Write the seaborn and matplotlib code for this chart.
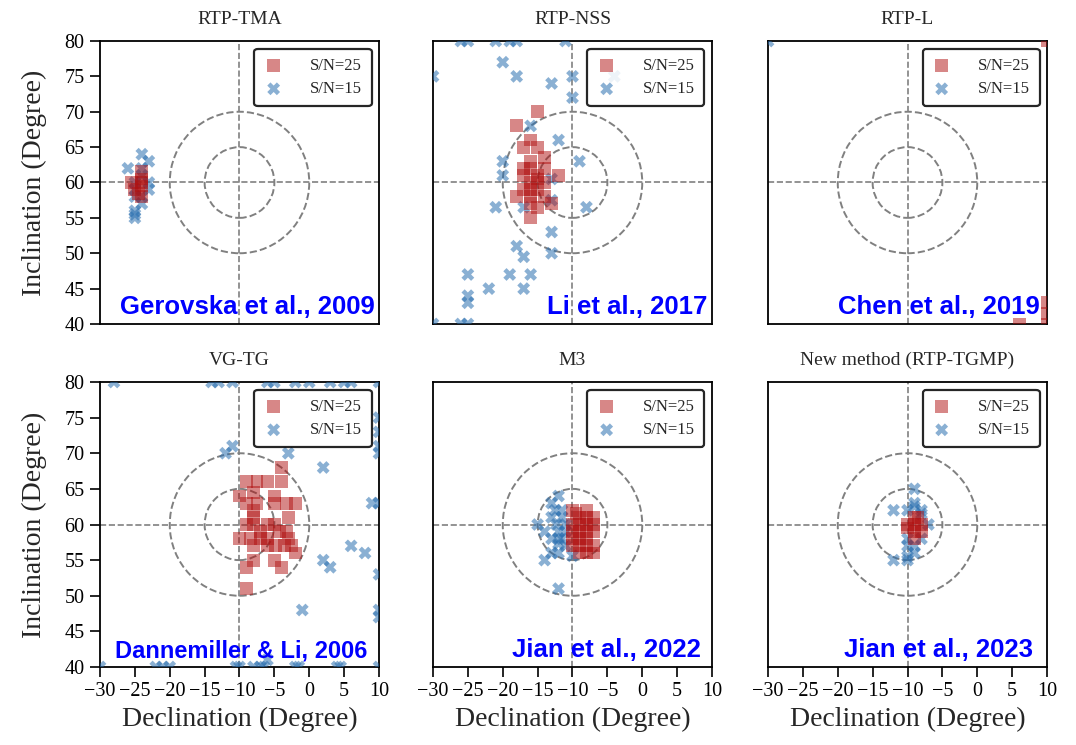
import matplotlib
matplotlib.use("Agg")
import matplotlib.pyplot as plt
import seaborn as sns
import pandas as pd
from matplotlib.patches import Circle

# ---------------- data ----------------
titles = ["RTP-TMA", "RTP-NSS", "RTP-L", "VG-TG", "M3", "New method (RTP-TGMP)"]
refs = ["Gerovska et al., 2009", "Li et al., 2017", "Chen et al., 2019",
        "Dannemiller & Li, 2006", "Jian et al., 2022", "Jian et al., 2023"]
x_ticks = [-30, -25, -20, -15, -10, -5, 0, 5, 10]
y_ticks = [40, 45, 50, 55, 60, 65, 70, 75, 80]
true_dec, true_inc = -10, 60
circle_radii = [5, 10]

tma_red_dec = [-25.5, -24, -24, -24, -24, -24.5, -24, -25]
tma_red_inc = [60, 61.5, 60.5, 59.5, 58, 58.5, 60, 59]
tma_blue_dec = [-24, -23, -26, -24, -23, -23, -25, -25, -24, -25, -25, -25, -24, -25, -24]
tma_blue_inc = [64, 63, 62, 62, 60, 59, 59, 58, 57, 56, 55.5, 55, 58, 60, 61]

nss_red_dec = [-15, -18, -16, -17, -15, -14, -16, -17, -16, -14, -12, -17, -15, -16,
               -17, -15, -18, -16, -14, -13, -15, -16, -14, -16, -15, -16]
nss_red_inc = [70, 68, 66, 65, 65, 63.5, 63, 62, 62, 62, 61, 61, 60.5, 60,
               59, 59, 58, 58, 58, 57, 56.5, 55, 60, 59, 61, 57]
nss_blue_dec = [-26, -25, -21, -19, -18, -11, -30, -20, -18, -13, -10, -10, -16, -12,
                -9, -20, -20, -13, -21, -17, -8, -13, -13, -18, -17, -13, -25, -19,
                -16, -22, -17, -25, -25, -30, -26, -25, -4]
nss_blue_inc = [80, 80, 80, 80, 80, 80, 75, 77, 75, 74, 75, 72, 68, 66,
                63, 63, 61, 60.5, 56.5, 56.5, 56.5, 57.5, 53, 51, 49.5, 50, 47, 47,
                47, 45, 45, 44, 43, 40, 40, 40, 75]

l_red_dec = [10, 10, 10, 6, 10]
l_red_inc = [80, 43, 41.5, 40, 40]
l_blue_dec = [-30]
l_blue_inc = [80]

vg_red_dec = [-4, -9, -7.5, -6, -4, -10, -8, -5, -9, -7.5, -5, -3.3, -2, -8, -8, -3,
              -8, -5, -6, -3.3, -4.3, -10, -8.4, -7, -6, -3, -8, -4.8, -3.6, -2.6,
              -2, -8, -5, -9, -4, -9, -7, -6, -9]
vg_red_inc = [68, 66, 66, 66, 66, 64, 64.5, 64, 63, 63, 63, 63, 63, 62, 61, 61,
              60, 60, 60, 59, 59, 58, 58, 58, 58, 58, 57, 57, 57, 57,
              56, 55, 55, 54, 54, 51, 59, 57, 60]
vg_blue_dec = [-28, -14, -13, -11, -6, -5, -2, 0, 3, 5, 6, 10,
               10, 10, 10, 10, 10, 10, 10, 10, 9,
               -12, -11, -3, 2, 6, 8, 2, 3, -1,
               -30, -22, -21, -20, -10.5, -10, -8, -7, -6.5, -6, -2, -1.5, 4, 4.5, 10]
vg_blue_inc = [80, 80, 80, 80, 80, 80, 80, 80, 80, 80, 80, 80,
               75, 73, 71, 70, 63, 53, 48, 47, 63,
               70, 71, 70, 68, 57, 56, 55, 54, 48,
               40, 40, 40, 40, 40, 40, 40, 40, 40, 41, 40, 40, 40, 40, 40]

m3_red_dec = [-10, -9, -8, -7, -10, -9, -8, -7, -10, -9, -8, -7, -10, -9, -8,
              -10, -9, -8, -7, -9, -8, -7, -9.5, -8]
m3_red_inc = [62, 61, 61, 61, 60, 60, 60, 60, 59, 59, 59, 59, 58, 58, 58,
              57, 57, 57, 57, 56, 56, 56, 61.5, 62]
m3_blue_dec = [-12, -13, -12.5, -11.5, -13, -11.5, -15, -14, -12, -11.5, -12, -13,
               -12, -14, -10, -12, -11, -11, -12.3, -11, -12, -13]
m3_blue_inc = [64, 63, 62, 62, 61, 61, 60, 59, 59, 58, 57.3, 56, 56, 55, 55.6,
               51, 60, 59, 60, 57, 58, 58]

new_red_dec = [-10, -9, -9, -9, -9, -8, -10, -8.5, -8]
new_red_inc = [59.5, 61, 60, 59, 58, 60, 60, 61, 59]
new_blue_dec = [-9, -9, -12, -10, -8, -7, -8, -10, -9, -10, -12, -10, -9, -8, -10, -9]
new_blue_inc = [65, 63, 62, 62, 62, 60, 58, 57, 57, 55.5, 55, 55, 62.5, 61.5, 58, 56]

panels = [
    (tma_red_dec, tma_red_inc, tma_blue_dec, tma_blue_inc),
    (nss_red_dec, nss_red_inc, nss_blue_dec, nss_blue_inc),
    (l_red_dec, l_red_inc, l_blue_dec, l_blue_inc),
    (vg_red_dec, vg_red_inc, vg_blue_dec, vg_blue_inc),
    (m3_red_dec, m3_red_inc, m3_blue_dec, m3_blue_inc),
    (new_red_dec, new_red_inc, new_blue_dec, new_blue_inc),
]

# ---------------- style ----------------
sns.set_style("ticks")
plt.rcParams["font.family"] = ["Liberation Serif", "DejaVu Serif"]
plt.rcParams["axes.linewidth"] = 1.3
plt.rcParams["xtick.major.width"] = 1.2
plt.rcParams["ytick.major.width"] = 1.2
plt.rcParams["xtick.major.size"] = 7
plt.rcParams["ytick.major.size"] = 7
plt.rcParams["axes.edgecolor"] = "black"
plt.rcParams["xtick.color"] = "black"
plt.rcParams["ytick.color"] = "black"

RED = "#b01010"
BLUE = "#2a6fb0"
GRID = "#808080"
ref_sizes = [18.5, 18.5, 18.5, 17, 18.5, 18.5]
ref_xpos = [0.985, 0.985, 0.975, 0.96, 0.96, 0.95]

fig, axes = plt.subplots(2, 3, figsize=(10.76, 7.45), dpi=100)
W, H = 1076, 745
col_x = [100, 433, 768]
col_w = 279
row_y = [(41, 324), (382, 667)]

for i, ax in enumerate(axes.flat):
    r, c = divmod(i, 3)
    top, bot = row_y[r]
    ax.set_position([col_x[c] / W, 1 - bot / H, col_w / W, (bot - top) / H])
    rd, ri, bd, bi = panels[i]
    dfb = pd.DataFrame({"dec": bd, "inc": bi})
    dfr = pd.DataFrame({"dec": rd, "inc": ri})
    ax.axvline(true_dec, color=GRID, ls="--", lw=1.2, zorder=1)
    ax.axhline(true_inc, color=GRID, ls="--", lw=1.2, zorder=1)
    for rad in circle_radii:
        ax.add_patch(Circle((true_dec, true_inc), rad, fill=False, ls="--",
                            lw=1.4, edgecolor=GRID, zorder=1))
    sns.scatterplot(data=dfb, x="dec", y="inc", ax=ax, marker="X", s=85,
                    color=BLUE, alpha=0.55, edgecolor="none", label="S/N=15", zorder=3)
    sns.scatterplot(data=dfr, x="dec", y="inc", ax=ax, marker="s", s=85,
                    color=RED, alpha=0.5, edgecolor="none", label="S/N=25", zorder=4)
    ax.set_xlim(-30, 10)
    ax.set_ylim(40, 80)
    ax.set_xticks(x_ticks)
    ax.set_yticks(y_ticks)
    ax.tick_params(labelsize=14.5, direction="out", pad=4)
    ax.set_title(titles[i], fontsize=14, pad=12)
    if c == 0:
        ax.set_ylabel("Inclination (Degree)", fontsize=20)
    else:
        ax.set_ylabel("")
        ax.tick_params(axis="y", left=False, labelleft=False)
    if r == 1:
        ax.set_xlabel("Declination (Degree)", fontsize=20)
    else:
        ax.set_xlabel("")
        ax.tick_params(axis="x", bottom=False, labelbottom=False)
    h, l = ax.get_legend_handles_labels()
    leg = ax.legend(h[::-1], l[::-1], loc="upper right", fontsize=12,
                    frameon=True, fancybox=True, framealpha=0.85,
                    handlelength=1.2, handletextpad=1.6, borderpad=0.55,
                    labelspacing=0.45, borderaxespad=0.45)
    leg.set_zorder(7)
    leg.get_frame().set_edgecolor("black")
    leg.get_frame().set_linewidth(1.6)
    ax.text(ref_xpos[i], 0.035, refs[i], transform=ax.transAxes, ha="right",
            va="baseline", color="blue", fontsize=ref_sizes[i], fontweight="bold",
            family=["Liberation Sans", "DejaVu Sans"], zorder=6)

axes[0, 0].yaxis.set_label_coords(-0.19, 0.5)
axes[1, 0].yaxis.set_label_coords(-0.19, 0.5)

fig.savefig("out.png", dpi=100)
